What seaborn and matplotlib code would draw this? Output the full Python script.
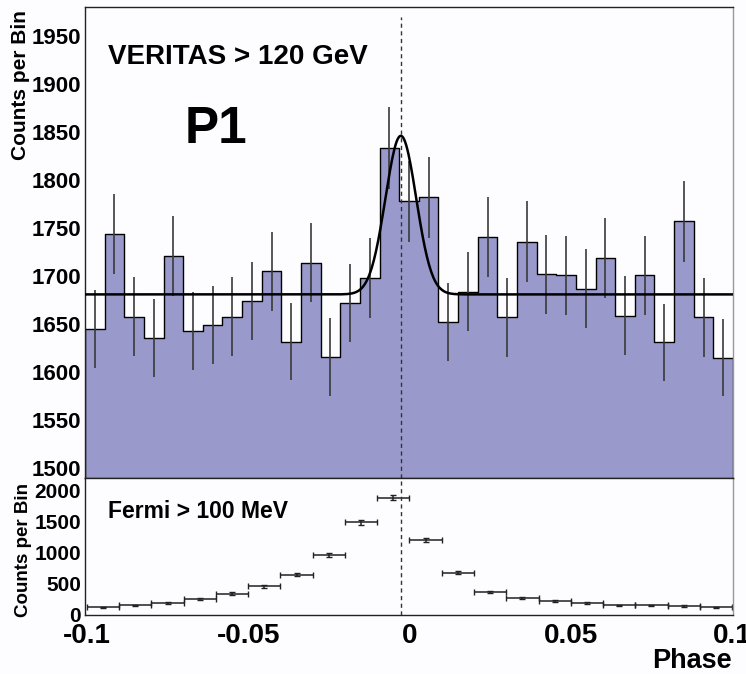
import numpy as np
import pandas as pd
import matplotlib
matplotlib.use('Agg')
import matplotlib.pyplot as plt
from matplotlib.ticker import MultipleLocator, FixedLocator
import seaborn as sns

# VERITAS > 120 GeV, 33 phase bins of 1/160 centred on phase 0
veritas_bin = 1.0 / 160
veritas_phase = np.arange(-16, 17) * veritas_bin
veritas_counts = [1645, 1744, 1658, 1636, 1721, 1643, 1649, 1658, 1674, 1705,
                  1632, 1714, 1616, 1672, 1698, 1833, 1778, 1782, 1652, 1684,
                  1741, 1657, 1736, 1702, 1701, 1687, 1719, 1659, 1701, 1631,
                  1757, 1657, 1615]

# fit: constant + gaussian
fit_const = 1681
fit_amp = 165
fit_mean = -0.0026
fit_sigma = 0.0049

# Fermi > 100 MeV, 20 bins of 0.01
fermi_bin = 0.01
fermi_phase = np.arange(-0.095, 0.1, fermi_bin)
fermi_counts = [124, 156, 189, 258, 344, 462, 650, 962, 1492, 1887,
                1205, 683, 371, 280, 231, 193, 156, 156, 145, 124]

peak_phase = -0.0026

sns.set_style('white')
plt.rcParams['font.family'] = ['Liberation Sans', 'DejaVu Sans']
plt.rcParams['font.weight'] = 'bold'
plt.rcParams['axes.unicode_minus'] = False
plt.rcParams['text.color'] = 'black'
plt.rcParams['xtick.color'] = 'black'
plt.rcParams['ytick.color'] = 'black'

bg = '#fdfcfe'
fill = '#9999cc'

fig = plt.figure(figsize=(7.46, 6.74), dpi=100, facecolor=bg)
W, H = 746, 674
ax1 = fig.add_axes([85 / W, 1 - 478 / H, 648 / W, 471 / H])
ax2 = fig.add_axes([85 / W, 1 - 615 / H, 648 / W, 137 / H])

# ---- top panel ----
ax1.set_facecolor(bg)
vdf = pd.DataFrame({'phase': veritas_phase, 'counts': veritas_counts})
edges = list(np.append(veritas_phase - veritas_bin / 2, veritas_phase[-1] + veritas_bin / 2))
sns.histplot(data=vdf, x='phase', weights='counts', bins=edges, element='step',
             fill=True, color=fill, alpha=1, edgecolor='black', linewidth=1.0, ax=ax1)
ax1.errorbar(veritas_phase, veritas_counts, yerr=np.sqrt(veritas_counts), fmt='none',
             ecolor='#3a3a3a', elinewidth=1.2, capsize=0, zorder=3)

xfit = np.linspace(edges[0], edges[-1], 600)
yfit = fit_const + fit_amp * np.exp(-(xfit - fit_mean) ** 2 / (2 * fit_sigma ** 2))
sns.lineplot(x=xfit, y=yfit, color='black', linewidth=1.8, ax=ax1, zorder=4)
ax1.vlines(peak_phase, 1490, 1970, colors='#333333', linestyles=(0, (3, 2.5)),
           linewidth=1.0, zorder=5)

ax1.set_xlim(edges[0], edges[-1])
ax1.set_ylim(1490, 1980)
ax1.yaxis.set_major_locator(MultipleLocator(50))
ax1.yaxis.set_minor_locator(MultipleLocator(10))
ax1.xaxis.set_major_locator(FixedLocator([-0.1, -0.05, 0, 0.05, 0.1]))
ax1.xaxis.set_minor_locator(MultipleLocator(0.01))
ax1.tick_params(axis='both', which='major', direction='in', length=11, width=1, color='#222222')
ax1.tick_params(axis='both', which='minor', direction='in', length=6, width=1, color='#222222')
ax1.tick_params(axis='x', labelbottom=False)
ax1.tick_params(axis='y', labelsize=16, pad=3, labelcolor='black')
ax1.set_ylabel('')
ax1.set_xlabel('')
for lab in ax1.get_yticklabels():
    lab.set_fontweight('bold')
for s in ax1.spines.values():
    s.set_color('#222222')
    s.set_linewidth(1.0)
ax1.spines['right'].set_color('#999999')

ax1.text(108 / W, 1 - 64 / H, 'VERITAS > 120 GeV', transform=fig.transFigure,
         fontsize=20, fontweight='bold', ha='left', va='baseline', color='black')
ax1.text(185 / W, 1 - 143 / H, 'P1', transform=fig.transFigure,
         fontsize=37, fontweight='bold', ha='left', va='baseline', color='black')

# ---- bottom panel ----
ax2.set_facecolor(bg)
ax2.errorbar(fermi_phase, fermi_counts, xerr=fermi_bin / 2, yerr=np.sqrt(fermi_counts),
             fmt='none', ecolor='#222222', elinewidth=1.1, capsize=2.2, capthick=1.0)
ax2.axvline(peak_phase, color='#333333', linestyle=(0, (3, 2.5)), linewidth=1.0)
ax2.set_xlim(-0.1006, 0.1003)
ax2.set_ylim(0, 2205)
ax2.yaxis.set_major_locator(FixedLocator([0, 500, 1000, 1500, 2000]))
ax2.set_xticks([-0.1, -0.05, 0, 0.05, 0.1])
ax2.set_xticklabels(['-0.1', '-0.05', '0', '0.05', '0.1'], fontsize=20, fontweight='bold')
ax2.tick_params(axis='y', direction='in', length=11, width=1, labelsize=15, pad=3,
                color='#222222', labelcolor='black')
ax2.tick_params(axis='x', direction='in', length=0, pad=6, labelcolor='black')
for lab in ax2.get_yticklabels():
    lab.set_fontweight('bold')
for s in ax2.spines.values():
    s.set_color('#222222')
    s.set_linewidth(1.0)
ax2.spines['right'].set_color('#999999')

ax2.text(108 / W, 1 - 518 / H, 'Fermi > 100 MeV', transform=fig.transFigure,
         fontsize=16.5, fontweight='bold', ha='left', va='baseline', color='black')

# axis titles, ROOT style
fig.text(20.5 / W, 1 - 10 / H, 'Counts per Bin', rotation=90, ha='center', va='top',
         fontsize=15, fontweight='bold', color='black')
fig.text(24 / W, 1 - 483 / H, 'Counts per Bin', rotation=90, ha='center', va='top',
         fontsize=13.5, fontweight='bold', color='black')
fig.text(732 / W, 1 - 668 / H, 'Phase', ha='right', va='baseline',
         fontsize=19.5, fontweight='bold', color='black')

fig.savefig('out.png', dpi=100, facecolor=bg)
